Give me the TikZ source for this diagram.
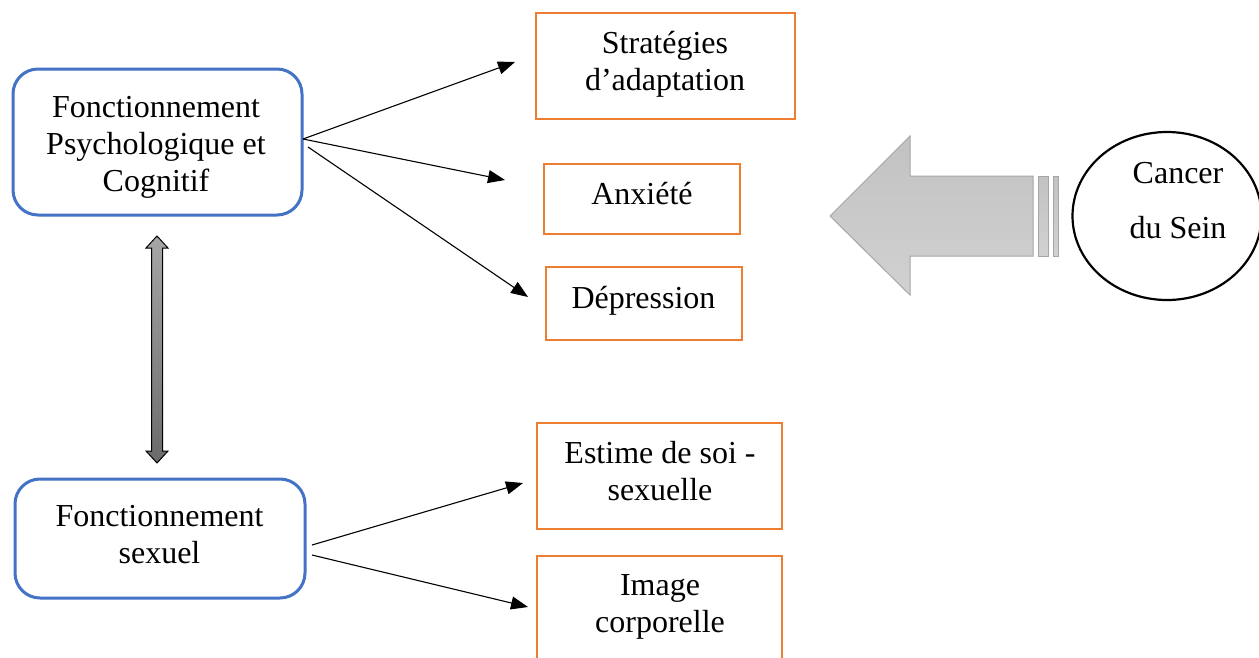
\documentclass[tikz,border=0pt]{standalone}
\usepackage{fontspec}
\setmainfont{Liberation Serif}
\usetikzlibrary{arrows.meta,shapes.geometric}
\definecolor{frameblue}{HTML}{4472C4}
\definecolor{frameorange}{HTML}{ED7D31}
\definecolor{bigarrowedge}{HTML}{A6A6A6}
% uniform line strut: height 23pt, depth 7pt
\newcommand\Ls{\rule[-7pt]{0pt}{30pt}}

\begin{document}
\begin{tikzpicture}[x=1pt,y=-1pt,
  lbl/.style={align=center, inner sep=0pt, font=\fontsize{32}{37}\selectfont},
  softbox/.style={draw=frameblue, line width=3pt, rounded corners=25pt, inner sep=0pt},
  framebox/.style={draw=frameorange, line width=2.2pt, inner sep=0pt},
  link/.style={line width=1.1pt, -{Triangle[length=17pt,width=13pt]}}]

\useasboundingbox (0,0) rectangle (1259,657);
\clip (0,0) rectangle (1259,657);
\fill[white] (0,0) rectangle (1259,657);

% left column: functioning boxes
\node[softbox, minimum width=289pt, minimum height=146pt] (psych) at (157.5,142) {};
\node[lbl] (psychlbl) at (156,146) {\Ls Fonctionnement\\\Ls Psychologique et\\\Ls Cognitif};
\node[softbox, minimum width=290pt, minimum height=119pt] (sexuel) at (160,538.5) {};
\node[lbl] (sexuellbl) at (159.5,536.5) {\Ls Fonctionnement\\\Ls sexuel};

% outcome boxes
\node[framebox, minimum width=259pt, minimum height=106pt] (strat) at (665.5,66) {};
\node[lbl] (stratlbl) at (665,63.5) {\Ls Stratégies\\\Ls d’adaptation};
\node[framebox, minimum width=196pt, minimum height=70pt] (anx) at (642,199) {};
\node[lbl] (anxlbl) at (642,196) {\Ls Anxiété};
\node[framebox, minimum width=196pt, minimum height=73pt] (dep) at (644,303.5) {};
\node[lbl] (deplbl) at (643.5,300) {\Ls Dépression};
\node[framebox, minimum width=245pt, minimum height=106pt] (estime) at (659.5,476) {};
\node[lbl] (estimelbl) at (660,473.5) {\Ls Estime de soi -\\\Ls sexuelle};
\node[framebox, minimum width=245pt, minimum height=144pt] (image) at (659.5,628) {};
\node[lbl] (imagelbl) at (660,605.5) {\Ls Image\\\Ls corporelle};

% cause
\node[draw, ellipse, line width=2.2pt, minimum width=189pt, minimum height=168pt] (cancer) at (1167,216) {};
\node[lbl] (cancerlbl) at (1178,202.5) {\Ls Cancer\\[18pt]\Ls du Sein};

% big grey arrow pointing left
\path[draw=bigarrowedge, line width=1pt, top color=black!24, bottom color=black!18]
  (830,216) -- (910,136) -- (910,176) -- (1033,176) -- (1033,256)
  -- (910,256) -- (910,295) -- cycle;
\path[draw=bigarrowedge, line width=1pt, top color=black!24, bottom color=black!18]
  (1038,176) rectangle (1048,256);
\path[draw=bigarrowedge, line width=1pt, top color=black!24, bottom color=black!18]
  (1053,176) rectangle (1058,256);

% two-headed link between the functioning boxes
\coordinate (dtop) at (157,236);
\coordinate (dbot) at (157,463);
\path[draw=black, line width=1pt, top color=black!35, bottom color=black!58]
  (dtop) -- ++(11,12) -- ++(-5.5,0) -- (162.5,451) -- ++(5.5,0) -- (dbot)
  -- (146,451) -- ++(5.5,0) -- (151.5,248) -- ++(-5.5,0) -- cycle;

% connector ends
\coordinate (p1) at (303,139);
\coordinate (p2) at (308,147);
\coordinate (s1) at (312,545);
\coordinate (s2) at (312,555);
\coordinate (tstrat) at (515,62);
\coordinate (tanx) at (505,180);
\coordinate (tdep) at (528,297);
\coordinate (testime) at (523,483);
\coordinate (timage) at (528,607);

\draw[link] (p1) -- (tstrat);
\draw[link] (p1) -- (tanx);
\draw[link] (p2) -- (tdep);
\draw[link] (s1) -- (testime);
\draw[link] (s2) -- (timage);
\end{tikzpicture}
\end{document}
